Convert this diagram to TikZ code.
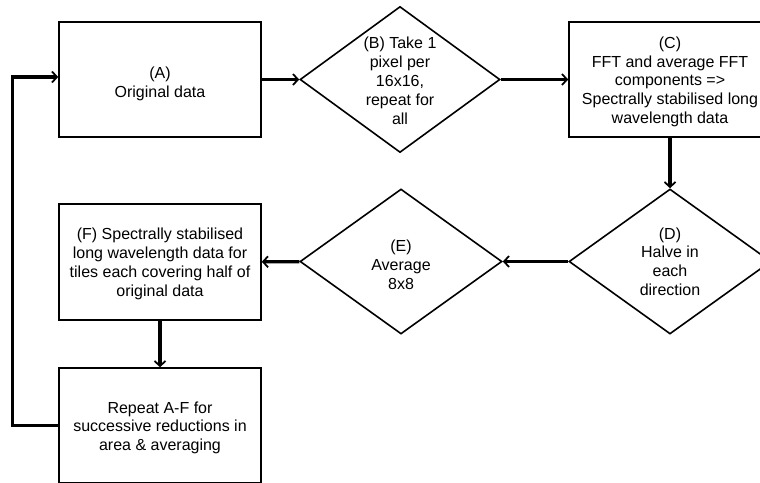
\documentclass[tikz,border=0pt]{standalone}
\usepackage{fontspec}
\setmainfont{Liberation Sans}
\usetikzlibrary{shapes.geometric,arrows.meta}
\newcommand\dnstrut[1]{\rule{0pt}{#1}}
\begin{document}
\begin{tikzpicture}[x=1pt,y=-1pt,
  txt/.style={align=center,font=\fontsize{16}{18.8}\selectfont},
  box/.style={txt,draw,line width=1.6pt,minimum width=202pt,minimum height=115pt,inner sep=0pt},
  dia/.style={txt,draw,diamond,line width=1.6pt,aspect=1.38,inner sep=0pt},
  flow/.style={line width=3.4pt,-{Straight Barb[length=5pt,width=11pt,line width=1.8pt]}}]
\clip (0,0) rectangle (760,482);
\node[box] (A) at (160,79.5) {\dnstrut{21pt}(A)\\Original data};
\node[dia,minimum width=200pt,minimum height=146pt] (B) at (400,79.5) {\dnstrut{14pt}(B) Take 1\\pixel per\\16x16,\\repeat for\\all};
\node[box] (C) at (670,79.5) {\dnstrut{16pt}(C)\\FFT and average FFT\\components =>\\Spectrally stabilised long\\wavelength data};
\node[dia,minimum width=202pt,minimum height=145pt] (D) at (670,261.5) {(D)\\Halve in\\each\\direction};
\node[dia,minimum width=202pt,minimum height=145pt] (E) at (401,261.5) {\dnstrut{18pt}(E)\\Average\\8x8};
\node[box,minimum height=116pt] (F) at (160,262) {\dnstrut{15pt}(F) Spectrally stabilised\\long wavelength data for\\tiles each covering half of\\original data};
\node[box] (R) at (160,425.5) {\dnstrut{16pt}Repeat A-F for\\successive reductions in\\area \& averaging};
\draw[flow] (A) -- (B);
\draw[flow] (B) -- (C);
\draw[flow] (C) -- (D);
\draw[flow] (D) -- (E);
\draw[flow] (E) -- (F);
\draw[flow] (F) -- (R);
\draw[flow] (R.west) -- ++(-46,0) |- ([yshift=2.5pt]A.west);
\end{tikzpicture}
\end{document}
